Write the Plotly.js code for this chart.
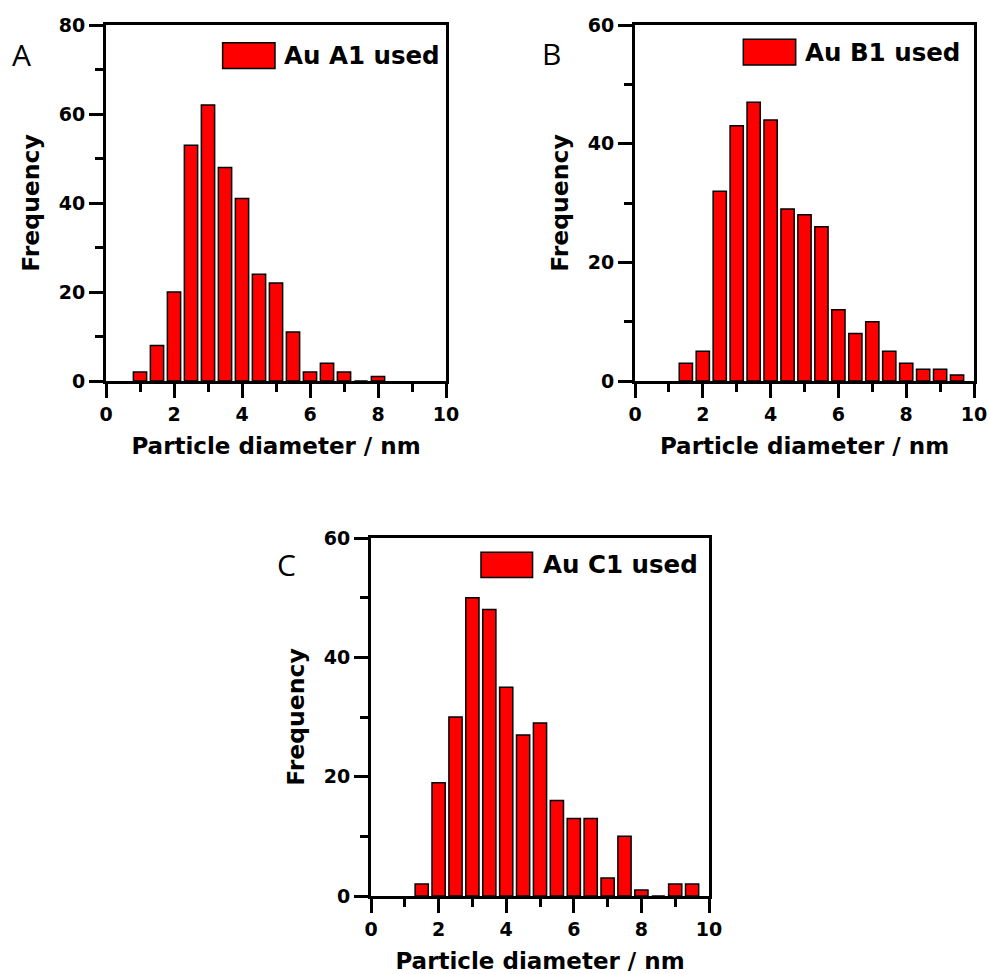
<!DOCTYPE html>
<html>
<head>
<meta charset="utf-8">
<script src="https://cdn.plot.ly/plotly-3.0.1.min.js"></script>
<style>html,body{margin:0;padding:0;background:#fff;}#chart{width:990px;height:974px;}</style>
</head>
<body>
<div id="chart"></div>
<script>
// Bin centres (nm)
const binsA = [1.0, 1.5, 2.0, 2.5, 3.0, 3.5, 4.0, 4.5, 5.0, 5.5, 6.0, 6.5, 7.0, 7.5, 8.0];
const freqA = [2, 8, 20, 53, 62, 48, 41, 24, 22, 11, 2, 4, 2, 0, 1];

const binsB = [1.5, 2.0, 2.5, 3.0, 3.5, 4.0, 4.5, 5.0, 5.5, 6.0, 6.5, 7.0, 7.5, 8.0, 8.5, 9.0, 9.5];
const freqB = [3, 5, 32, 43, 47, 44, 29, 28, 26, 12, 8, 10, 5, 3, 2, 2, 1];

const binsC = [1.5, 2.0, 2.5, 3.0, 3.5, 4.0, 4.5, 5.0, 5.5, 6.0, 6.5, 7.0, 7.5, 8.0, 8.5, 9.0, 9.5];
const freqC = [2, 19, 30, 50, 48, 35, 27, 29, 16, 13, 13, 3, 10, 1, 0, 2, 2];

const seriesNames = ["Au A1 used", "Au B1 used", "Au C1 used"];
const panelLetters = ["A", "B", "C"];
const xTitle = "Particle diameter / nm";
const yTitle = "Frequency";
const yMax = [80, 60, 60];

const W = 990, H = 974;
const FONT = "DejaVu Sans";
const boldFont = (s) => ({family: FONT, size: s, color: "#000", weight: "bold"});

function mkTrace(x, y, xa, ya, name) {
  return {
    type: "bar", x: x, y: y, xaxis: xa, yaxis: ya, name: name,
    width: 0.39,
    marker: {color: "#FF0000", line: {color: "#000", width: 1.5}},
    showlegend: false, hoverinfo: "x+y"
  };
}

const data = [
  mkTrace(binsA, freqA, "x", "y", seriesNames[0]),
  mkTrace(binsB, freqB, "x2", "y2", seriesNames[1]),
  mkTrace(binsC, freqC, "x3", "y3", seriesNames[2])
];

function xAxis(dom, anchor) {
  return {
    domain: dom, anchor: anchor, range: [0, 10], tickmode: "linear", tick0: 0, dtick: 2,
    ticks: "outside", ticklen: 14, tickwidth: 3, tickcolor: "#000",
    minor: {dtick: 1, ticks: "outside", ticklen: 8, tickwidth: 3, tickcolor: "#000"},
    showline: true, linecolor: "#000", linewidth: 3, mirror: true,
    showgrid: false, zeroline: false, fixedrange: true,
    tickfont: boldFont(19),
    title: {text: xTitle, font: boldFont(23), standoff: 15}
  };
}
function yAxis(dom, anchor, max) {
  return {
    domain: dom, anchor: anchor, range: [0, max], tickmode: "linear", tick0: 0, dtick: 20,
    ticks: "outside", ticklen: 14, tickwidth: 3, tickcolor: "#000",
    minor: {dtick: 10, ticks: "outside", ticklen: 8, tickwidth: 3, tickcolor: "#000"},
    showline: true, linecolor: "#000", linewidth: 3, mirror: true,
    showgrid: false, zeroline: false, fixedrange: true,
    tickfont: boldFont(19),
    title: {text: yTitle, font: boldFont(23.5), standoff: 13}
  };
}

const domA = {x: [106 / W, 446 / W], y: [1 - 381 / H, 1 - 25 / H]};
const domB = {x: [635 / W, 974 / W], y: [1 - 381 / H, 1 - 25 / H]};
const domC = {x: [371 / W, 709 / W], y: [1 - 896 / H, 1 - 538 / H]};

// legend-like swatches (in axis-domain coordinates) and labels
const legendBoxes = [
  {xa: "x", ya: "y", x0: 0.343, x1: 0.497, y0: 0.878, y1: 0.950, tx: 0.518, ty: 0.914},
  {xa: "x2", ya: "y2", x0: 0.3195, x1: 0.474, y0: 0.8876, y1: 0.960, tx: 0.4965, ty: 0.924},
  {xa: "x3", ya: "y3", x0: 0.3254, x1: 0.478, y0: 0.890, y1: 0.960, tx: 0.502, ty: 0.9246}
];

const shapes = legendBoxes.map(b => ({
  type: "rect", xref: b.xa + " domain", yref: b.ya + " domain",
  x0: b.x0, x1: b.x1, y0: b.y0, y1: b.y1,
  fillcolor: "#FF0000", line: {color: "#000", width: 1.5}
}));

const annotations = legendBoxes.map((b, i) => ({
  xref: b.xa + " domain", yref: b.ya + " domain", x: b.tx, y: b.ty,
  xanchor: "left", yanchor: "middle", showarrow: false,
  text: seriesNames[i], font: boldFont(24.5)
}));

const letterPos = [[10, 70], [540, 69], [275, 580]];
letterPos.forEach((p, i) => {
  annotations.push({
    xref: "paper", yref: "paper", x: p[0] / W, y: 1 - p[1] / H,
    xanchor: "left", yanchor: "bottom", yshift: -7, showarrow: false,
    text: panelLetters[i], font: {family: "Open Sans", size: 30, color: "#000"}
  });
});

const layout = {
  width: W, height: H,
  margin: {l: 0, r: 0, t: 0, b: 0},
  paper_bgcolor: "#fff", plot_bgcolor: "#fff",
  showlegend: false,
  xaxis: xAxis(domA.x, "y"), yaxis: yAxis(domA.y, "x", yMax[0]),
  xaxis2: xAxis(domB.x, "y2"), yaxis2: yAxis(domB.y, "x2", yMax[1]),
  xaxis3: xAxis(domC.x, "y3"), yaxis3: yAxis(domC.y, "x3", yMax[2]),
  shapes: shapes,
  annotations: annotations
};

Plotly.newPlot("chart", data, layout, {displayModeBar: false, staticPlot: true});
</script>
</body>
</html>
